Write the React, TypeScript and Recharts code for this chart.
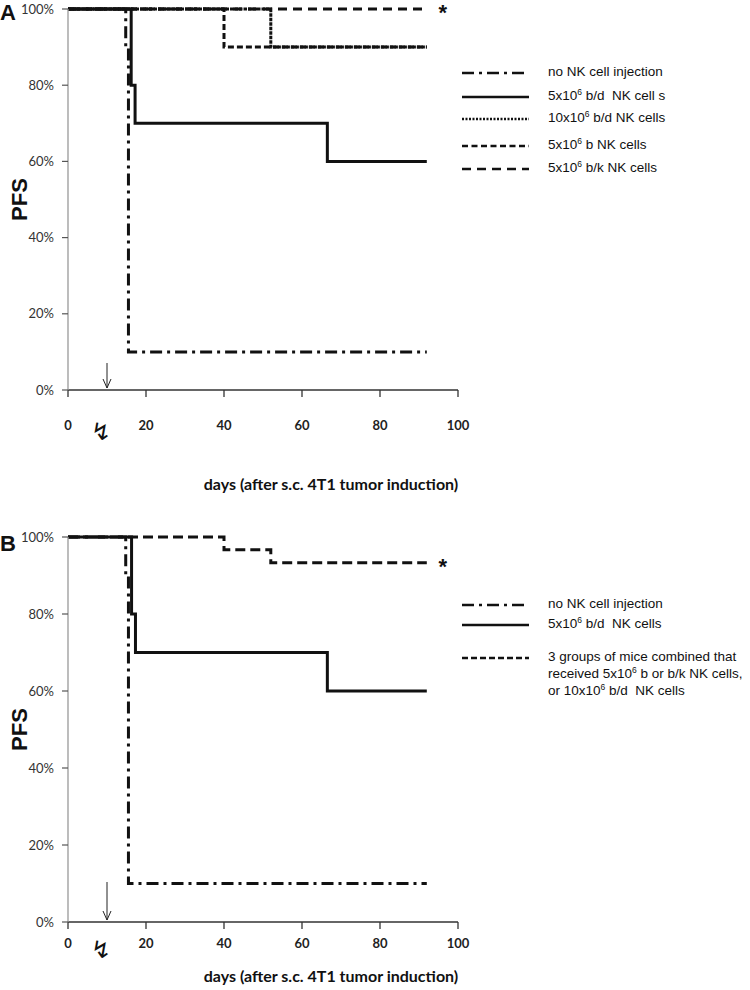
import React from 'react';
import { LineChart, Line, XAxis, YAxis, ReferenceDot, Label } from 'recharts';

// panel A – separate groups
const noNkDaysA = [0, 14.8, 15.5, 92];
const noNkPfsA = [100, 90, 10, 10];
const bd5DaysA = [0, 16.2, 17.2, 66.5, 92];
const bd5PfsA = [100, 80, 70, 60, 60];
const bd10DaysA = [0, 52, 92];
const bd10PfsA = [100, 90, 90];
const b5DaysA = [0, 40, 92];
const b5PfsA = [100, 90, 90];
const bk5DaysA = [0, 92];
const bk5PfsA = [100, 100];

// panel B – combined groups
const noNkDaysB = [0, 14.8, 15.5, 92];
const noNkPfsB = [100, 90, 10, 10];
const bd5DaysB = [0, 16.3, 17.3, 66.5, 92];
const bd5PfsB = [100, 80, 70, 60, 60];
const combDaysB = [0, 40, 52, 92];
const combPfsB = [100, 96.7, 93.3, 93.3];

const xTicks = [0, 20, 40, 60, 80, 100];
const yTicks = [0, 20, 40, 60, 80, 100];
const injectionDay = 10;

const zip = (days: number[], pfs: number[]) => days.map((day, i) => ({ day, pfs: pfs[i] }));

type Series = { key: string; data: { day: number; pfs: number }[]; dash?: string; width: number; legendDash?: string };

const seriesA: Series[] = [
    { key: 'nonk', data: zip(noNkDaysA, noNkPfsA), dash: '12 5 3 5', width: 3, legendDash: '12 5 3 5' },
    { key: 'bd5', data: zip(bd5DaysA, bd5PfsA), width: 3 },
    { key: 'bd10', data: zip(bd10DaysA, bd10PfsA), dash: '3.5 1', width: 3, legendDash: '2 1.5' },
    { key: 'b5', data: zip(b5DaysA, b5PfsA), dash: '6 3', width: 3, legendDash: '6 3.5' },
    { key: 'bk5', data: zip(bk5DaysA, bk5PfsA), dash: '9 6', width: 3, legendDash: '9 6' },
];

const seriesB: Series[] = [
    { key: 'nonk', data: zip(noNkDaysB, noNkPfsB), dash: '12 5 3 5', width: 3, legendDash: '12 5 3 5' },
    { key: 'bd5', data: zip(bd5DaysB, bd5PfsB), width: 3 },
    { key: 'comb', data: zip(combDaysB, combPfsB), dash: '10 5', width: 3, legendDash: '6 3' },
];

const Sup = ({ t }: { t: string }) => <span style={{ fontSize: 8.5, position: 'relative', top: -5 }}>{t}</span>;

const legendA = [
    { y: 73, dash: seriesA[0].legendDash, text: [<>no NK cell injection</>] },
    { y: 97, dash: undefined, text: [<>5x10<Sup t="6" /> b/d&nbsp; NK cell s</>] },
    { y: 119, dash: seriesA[2].legendDash, text: [<>10x10<Sup t="6" /> b/d NK cells</>] },
    { y: 146, dash: seriesA[3].legendDash, text: [<>5x10<Sup t="6" /> b NK cells</>] },
    { y: 169, dash: seriesA[4].legendDash, text: [<>5x10<Sup t="6" /> b/k NK cells</>] },
];

const legendB = [
    { y: 605, dash: seriesB[0].legendDash, text: [<>no NK cell injection</>] },
    { y: 625, dash: undefined, text: [<>5x10<Sup t="6" /> b/d&nbsp; NK cells</>] },
    {
        y: 658, dash: seriesB[2].legendDash, text: [
            <>3 groups of mice combined that</>,
            <>received 5x10<Sup t="6" /> b or b/k NK cells,</>,
            <>or 10x10<Sup t="6" /> b/d&nbsp; NK cells</>,
        ],
    },
];

const LegendBlock = ({ rows }: { rows: typeof legendA }) => (
    <>
        {rows.map((r, i) => (
            <div key={i} style={{ position: 'absolute', left: 460, top: r.y - 8, width: 290 }}>
                <svg width={72} height={16} style={{ position: 'absolute', left: 0, top: 0 }}>
                    <line x1={2} x2={69} y1={8} y2={8} stroke="#111" strokeWidth={2.5} strokeDasharray={r.dash} />
                </svg>
                <div style={{ position: 'absolute', left: 88, top: -1, fontFamily: '"Liberation Sans", Arial, sans-serif', fontSize: 13.5, color: '#111', lineHeight: '16.5px', whiteSpace: 'nowrap' }}>
                    {r.text.map((t, j) => <div key={j}>{t}</div>)}
                </div>
            </div>
        ))}
    </>
);

const tickFont = { fontFamily: 'Lato, "Open Sans", sans-serif', fontSize: 13, fill: '#333' };

type PanelProps = { top: number; height: number; bottom: number; series: Series[]; tickGap: number; labelGap: number; arrowLen: number; boltGap: number; star: number };

const Panel = ({ top, height, bottom, series, tickGap, labelGap, arrowLen, boltGap, star }: PanelProps) => (
    <div style={{ position: 'absolute', left: 0, top }}>
        <LineChart width={750} height={height} margin={{ top: 9, right: 292, bottom, left: 8 }}>
            <XAxis
                type="number" dataKey="day" domain={[0, 100]} ticks={xTicks} allowDuplicatedCategory={false}
                tick={{ ...tickFont, fontSize: 13, fill: '#222', fontWeight: 700 }}
                tickSize={7} tickMargin={tickGap} axisLine={{ stroke: '#333', strokeWidth: 1.3 }} tickLine={{ stroke: '#333', strokeWidth: 1.3 }}
                height={30}
            >
                <Label
                    content={({ viewBox }: any) => (
                        <text x={viewBox.x + viewBox.width / 2 + 68} y={viewBox.y + labelGap} textAnchor="middle"
                            style={{ fontFamily: 'Lato, sans-serif', fontSize: 16, fontWeight: 700, fill: '#111' }}>
                            days (after s.c. 4T1 tumor induction)
                        </text>
                    )}
                />
            </XAxis>
            <YAxis
                type="number" domain={[0, 100]} ticks={yTicks} width={60} tickFormatter={(v) => `${v}%`}
                tick={tickFont} tickSize={6} tickMargin={8}
                axisLine={{ stroke: '#999', strokeWidth: 1.3 }} tickLine={{ stroke: '#555', strokeWidth: 1.2 }}
            >
                <Label
                    content={({ viewBox }: any) => {
                        const cx = viewBox.x + 11;
                        const cy = viewBox.y + viewBox.height / 2;
                        return (
                            <text x={cx} y={cy} textAnchor="middle" dominantBaseline="central" transform={`rotate(-90 ${cx} ${cy})`}
                                style={{ fontFamily: '"Liberation Sans", Arial, sans-serif', fontSize: 22, fontWeight: 700, fill: '#111' }}>
                                PFS
                            </text>
                        );
                    }}
                />
            </YAxis>
            {series.map((s) => (
                <Line key={s.key} data={s.data} dataKey="pfs" type="stepAfter" stroke="#111" strokeWidth={s.width}
                    strokeDasharray={s.dash} dot={false} activeDot={false} isAnimationActive={false} />
            ))}
            <ReferenceDot x={injectionDay} y={0} r={1} ifOverflow="visible"
                shape={(p: any) => (
                    <g>
                        <line x1={p.cx} x2={p.cx} y1={p.cy - arrowLen} y2={p.cy - 2} stroke="#222" strokeWidth={1} />
                        <path d={`M${p.cx - 4},${p.cy - 11} L${p.cx},${p.cy - 2} L${p.cx + 4},${p.cy - 11}`} fill="none" stroke="#222" strokeWidth={1} />
                        <text x={p.cx - 6} y={p.cy + boltGap} textAnchor="middle" dominantBaseline="central"
                            style={{ fontFamily: '"DejaVu Sans", sans-serif', fontSize: 24, fill: '#111' }}>↯</text>
                    </g>
                )} />
            <ReferenceDot x={92} y={star} r={1} ifOverflow="visible"
                shape={(p: any) => (
                    <text x={p.cx + 16} y={p.cy + 11} textAnchor="middle"
                        style={{ fontFamily: '"Liberation Sans", Arial, sans-serif', fontSize: 22, fontWeight: 700, fill: '#111' }}>*</text>
                )} />
        </LineChart>
    </div>
);

export default function App() {
    return (
        <div style={{ position: 'absolute', left: 0, top: 0, width: 750, height: 990, background: '#fff', overflow: 'hidden' }}>
            <Panel top={0} height={500} bottom={80} series={seriesA} tickGap={24} labelGap={100} arrowLen={27} boltGap={42} star={100} />
            <Panel top={528} height={462} bottom={38} series={seriesB} tickGap={10} labelGap={60} arrowLen={40} boltGap={28} star={combPfsB[combPfsB.length - 1]} />
            <div style={{ position: 'absolute', left: 0, top: 0, fontFamily: '"Liberation Sans", Arial, sans-serif', fontSize: 22, fontWeight: 700, color: '#111' }}>A</div>
            <div style={{ position: 'absolute', left: 0, top: 531, fontFamily: '"Liberation Sans", Arial, sans-serif', fontSize: 22, fontWeight: 700, color: '#111' }}>B</div>
            <LegendBlock rows={legendA} />
            <LegendBlock rows={legendB} />
        </div>
    );
}
